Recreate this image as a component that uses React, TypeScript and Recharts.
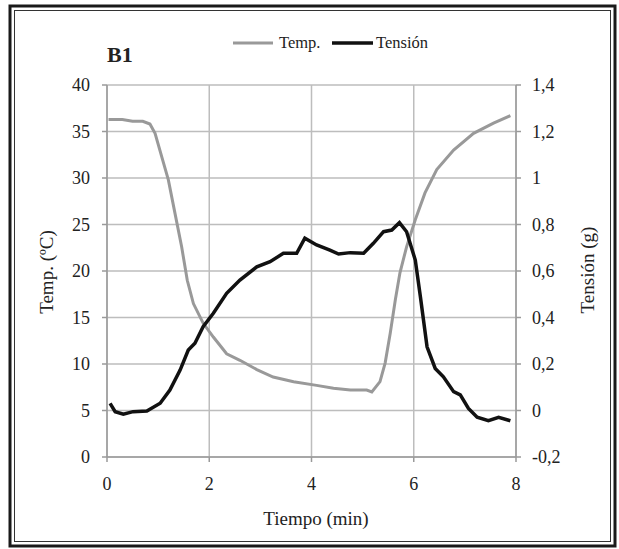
import React from "react";
import { LineChart, Line, XAxis, YAxis, CartesianGrid, Legend } from "recharts";

// Temperature series (left axis, ºC)
const tempTime = [0.03, 0.3, 0.5, 0.7, 0.84, 0.94, 1.07, 1.2, 1.33, 1.46, 1.57, 1.69, 1.88, 2.08, 2.34, 2.6, 2.93, 3.25, 3.65, 4.1, 4.43, 4.76, 5.08, 5.18, 5.34, 5.44, 5.54, 5.64, 5.73, 5.86, 6.03, 6.22, 6.45, 6.78, 7.17, 7.56, 7.89];
const tempValues = [36.3, 36.3, 36.1, 36.1, 35.8, 34.8, 32.3, 29.8, 26.2, 22.6, 19.0, 16.5, 14.4, 12.9, 11.1, 10.4, 9.4, 8.6, 8.1, 7.7, 7.4, 7.2, 7.2, 7.0, 8.1, 10.1, 13.3, 16.9, 19.8, 22.6, 25.5, 28.4, 30.9, 33.0, 34.8, 35.9, 36.7];

// Tension series (right axis, g)
const tensionTime = [0.06, 0.16, 0.32, 0.51, 0.78, 1.04, 1.23, 1.43, 1.59, 1.72, 1.88, 2.08, 2.34, 2.6, 2.93, 3.19, 3.45, 3.71, 3.87, 4.1, 4.36, 4.53, 4.76, 5.02, 5.21, 5.41, 5.57, 5.72, 5.86, 6.03, 6.13, 6.26, 6.42, 6.58, 6.78, 6.91, 7.07, 7.24, 7.46, 7.66, 7.89];
const tensionValues = [0.031, -0.005, -0.016, -0.005, -0.002, 0.031, 0.088, 0.174, 0.26, 0.289, 0.36, 0.418, 0.504, 0.561, 0.618, 0.64, 0.676, 0.676, 0.741, 0.712, 0.69, 0.673, 0.679, 0.676, 0.719, 0.769, 0.776, 0.808, 0.769, 0.647, 0.489, 0.274, 0.181, 0.145, 0.081, 0.067, 0.009, -0.029, -0.044, -0.029, -0.044];

const xTicks = [0, 2, 4, 6, 8];
const leftTicks = [0, 5, 10, 15, 20, 25, 30, 35, 40];
const rightTicks = [-0.2, 0, 0.2, 0.4, 0.6, 0.8, 1, 1.2, 1.4];

const tempData = tempTime.map((t, i) => ({ t, v: tempValues[i] }));
const tensionData = tensionTime.map((t, i) => ({ t, v: tensionValues[i] }));

const FONT = "Liberation Serif, DejaVu Serif, serif";
const TEXT = "#222";
const AXIS = "#9a9a9a";
const GRID = "#bdbdbd";
const TEMP_COLOR = "#999999";
const TENSION_COLOR = "#111111";

const fmtComma = (v: number) => String(v).replace(".", ",");

const LegendContent = () => (
  <svg width={200} height={24} style={{ display: "block" }}>
    <line x1={0} x2={40} y1={10} y2={10} stroke={TEMP_COLOR} strokeWidth={3} />
    <text x={46} y={15} fontSize={16.5} fontFamily={FONT} fill={TEXT}>Temp.</text>
    <line x1={99} x2={140} y1={10} y2={10} stroke={TENSION_COLOR} strokeWidth={3.5} />
    <text x={143} y={15} fontSize={16.5} fontFamily={FONT} fill={TEXT}>Tensión</text>
  </svg>
);

export default function App() {
  const tickStyle = { fontSize: 18, fill: TEXT, fontFamily: FONT };
  return (
    <div style={{ position: "absolute", left: 0, top: 0, width: 619, height: 549, background: "#fff", fontFamily: FONT }}>
      <LineChart width={619} height={549} margin={{ top: 85, right: 43, bottom: 62, left: 47 }} style={{ fontFamily: FONT }}>
        <CartesianGrid yAxisId="left" stroke={GRID} strokeWidth={1.5} horizontalValues={leftTicks} verticalValues={xTicks} />
        <XAxis
          dataKey="t"
          type="number"
          domain={[0, 8]}
          ticks={xTicks}
          height={30}
          stroke={AXIS}
          strokeWidth={1.5}
          tickSize={5}
          tickMargin={15}
          tick={tickStyle}
          allowDataOverflow
          label={{
            content: () => (
              <text x={316} y={525} textAnchor="middle" fontSize={19} fontFamily={FONT} fill={TEXT}>Tiempo (min)</text>
            ),
          }}
        />
        <YAxis
          yAxisId="left"
          orientation="left"
          width={60}
          domain={[0, 40]}
          ticks={leftTicks}
          stroke={AXIS}
          strokeWidth={1.5}
          tickSize={5}
          tickMargin={12}
          tick={tickStyle}
          allowDataOverflow
          label={{
            content: () => (
              <text x={46} y={272} transform="rotate(-90 46 272)" textAnchor="middle" dominantBaseline="central" fontSize={19} fontFamily={FONT} fill={TEXT}>Temp. (ºC)</text>
            ),
          }}
        />
        <YAxis
          yAxisId="right"
          orientation="right"
          width={60}
          domain={[-0.2, 1.4]}
          ticks={rightTicks}
          tickFormatter={fmtComma}
          stroke={AXIS}
          strokeWidth={1.5}
          tickSize={5}
          tickMargin={11}
          tick={{ ...tickStyle, textAnchor: "start" }}
          allowDataOverflow
          label={{
            content: () => (
              <text x={587} y={270} transform="rotate(-90 587 270)" textAnchor="middle" dominantBaseline="central" fontSize={19} fontFamily={FONT} fill={TEXT}>Tensión (g)</text>
            ),
          }}
        />
        <Legend
          verticalAlign="middle"
          align="center"
          content={LegendContent}
          wrapperStyle={{ position: "absolute", top: 33, left: 233, width: 200, height: 24 }}
        />
        <Line
          yAxisId="left"
          data={tempData}
          dataKey="v"
          name="Temp."
          type="linear"
          stroke={TEMP_COLOR}
          strokeWidth={3}
          dot={false}
          activeDot={false}
          isAnimationActive={false}
        />
        <Line
          yAxisId="right"
          data={tensionData}
          dataKey="v"
          name="Tensión"
          type="linear"
          stroke={TENSION_COLOR}
          strokeWidth={3.5}
          dot={false}
          activeDot={false}
          isAnimationActive={false}
        />
      </LineChart>
      <svg width={619} height={549} style={{ position: "absolute", left: 0, top: 0, pointerEvents: "none" }}>
        <rect x={10} y={6} width={605} height={540} fill="none" stroke="#1a1a1a" strokeWidth={3} />
        <rect x={14.5} y={10.5} width={596} height={531} fill="none" stroke="#333" strokeWidth={1} />
        <text x={107} y={62} fontSize={22} fontWeight="bold" fontFamily={FONT} fill={TEXT}>B1</text>
      </svg>
    </div>
  );
}
